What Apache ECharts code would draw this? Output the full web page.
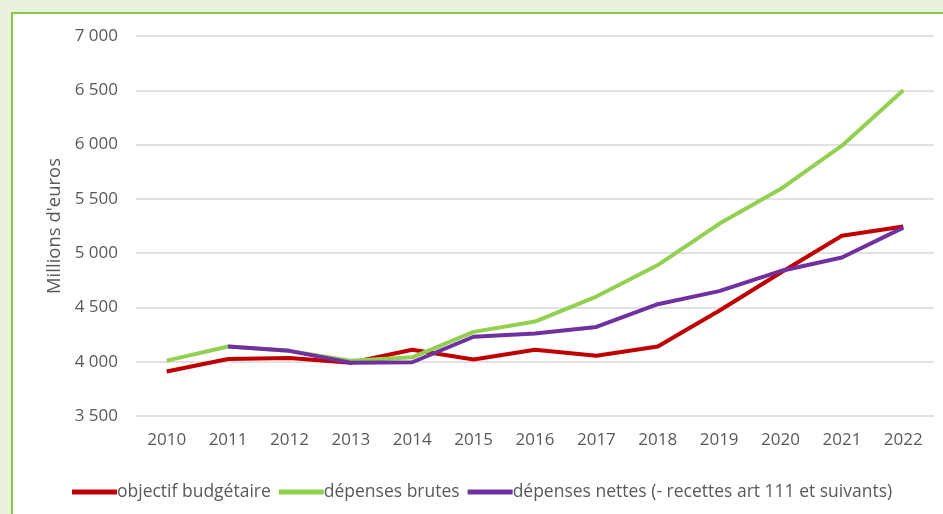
<!DOCTYPE html>
<html>
<head>
<meta charset="utf-8">
<script src="https://cdn.jsdelivr.net/npm/echarts@6/dist/echarts.min.js"></script>
<style>
html,body{margin:0;padding:0;background:#e9f2dd;}
#chart{width:943px;height:514px;}
</style>
</head>
<body>
<div id="chart"></div>
<script>
const years = ['2010','2011','2012','2013','2014','2015','2016','2017','2018','2019','2020','2021','2022'];
const objectifBudgetaire = [3910, 4025, 4035, 3990, 4110, 4020, 4110, 4055, 4140, 4470, 4820, 5160, 5245];
const depensesBrutes = [4010, 4140, 4100, 4010, 4040, 4275, 4370, 4600, 4890, 5270, 5590, 5990, 6500];
const depensesNettes = [null, 4140, 4100, 3990, 3995, 4230, 4260, 4320, 4530, 4650, 4835, 4960, 5235];
const seriesNames = ['objectif budgétaire', 'dépenses brutes', 'dépenses nettes (- recettes art 111 et suivants)'];
const yTicks = {min: 3500, max: 7000, interval: 500};

const font = '"Open Sans", Lato, sans-serif';
const chart = echarts.init(document.getElementById('chart'), null, {renderer: 'canvas'});
chart.setOption({
  animation: false,
  graphic: [{
    type: 'rect', z: -10, silent: true,
    shape: {x: 12, y: 13, width: 940, height: 510},
    style: {fill: '#ffffff', stroke: '#8dc641', lineWidth: 2}
  }],
  grid: {left: 136, right: 9, top: 36, bottom: 98},
  legend: {
    left: 72, top: 483, padding: 0,
    itemWidth: 45, itemHeight: 5, itemGap: 8,
    icon: 'rect',
    textStyle: {fontFamily: font, fontSize: 17.5, color: '#595959', padding: [0,0,0,-5]},
    data: seriesNames
  },
  xAxis: {
    type: 'category', data: years, boundaryGap: true,
    axisLine: {show: false}, axisTick: {show: false},
    axisLabel: {fontFamily: font, fontSize: 17, color: '#595959', margin: 16}
  },
  yAxis: {
    type: 'value', min: yTicks.min, max: yTicks.max, interval: yTicks.interval,
    name: "Millions d'euros", nameLocation: 'middle', nameGap: 67,
    nameTextStyle: {fontFamily: font, fontSize: 18.5, color: '#595959'},
    axisLine: {show: false}, axisTick: {show: false},
    splitLine: {lineStyle: {color: '#d9d9d9', width: 1.5}},
    axisLabel: {fontFamily: font, fontSize: 17, color: '#595959', margin: 18,
      formatter: v => String(v).replace(/\B(?=(\d{3})+(?!\d))/g, ' ')}
  },
  series: [
    {name: seriesNames[0], type: 'line', data: objectifBudgetaire, showSymbol: false, symbol: 'none',
     lineStyle: {color: '#c00000', width: 4}, itemStyle: {color: '#c00000'}, z: 2},
    {name: seriesNames[1], type: 'line', data: depensesBrutes, showSymbol: false, symbol: 'none',
     lineStyle: {color: '#92d050', width: 4}, itemStyle: {color: '#92d050'}, z: 3},
    {name: seriesNames[2], type: 'line', data: depensesNettes, showSymbol: false, symbol: 'none',
     lineStyle: {color: '#7030a0', width: 4}, itemStyle: {color: '#7030a0'}, z: 4}
  ]
});
</script>
</body>
</html>
